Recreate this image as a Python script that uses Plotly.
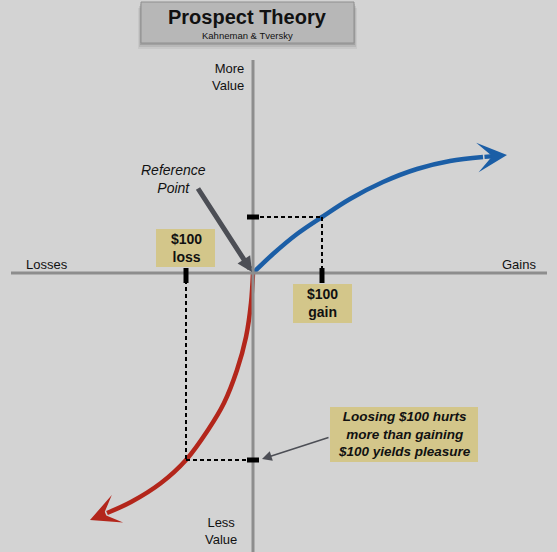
import plotly.graph_objects as go

# ---- data (chart units: origin at the reference point) ----
gain_x = [0, 20, 44, 69, 97, 130, 164, 197, 230]
gain_v = [0, 19, 39, 56, 74, 91, 104, 112, 116]
gain_tip = (254, 118)

loss_x = [0, -2, -7, -16, -29, -45, -67, -92, -122, -146]
loss_v = [0, -30, -64, -97, -130, -157, -187, -210, -229, -240]
loss_tip = (-163, -247)

mark_gain = (69, 56)     # $100 gain -> value
mark_loss = (-67, -187)  # $100 loss -> value

BG = "#d3d3d3"
AXIS = "#8d8d8d"
BLUE = "#1b5ea6"
RED = "#b3261b"
KHAKI = "#d3c68a"
DARK = "#4c4e55"
FONT = "Liberation Sans, Arial, sans-serif"

fig = go.Figure()

shapes = []
# axes
shapes.append(dict(type="line", x0=-242, x1=294, y0=0, y1=0, line=dict(color=AXIS, width=3)))
shapes.append(dict(type="line", x0=0, x1=0, y0=213, y1=-279, line=dict(color=AXIS, width=3)))

# dashed guides
dash = "4px,3px"
gx, gv = mark_gain
lx, lv = mark_loss
shapes += [
    dict(type="line", x0=0, x1=gx, y0=gv, y1=gv, line=dict(color="black", width=2, dash=dash)),
    dict(type="line", x0=gx, x1=gx, y0=gv, y1=0, line=dict(color="black", width=2, dash=dash)),
    dict(type="line", x0=lx, x1=lx, y0=0, y1=lv, line=dict(color="black", width=2, dash=dash)),
    dict(type="line", x0=lx, x1=0, y0=lv, y1=lv, line=dict(color="black", width=2, dash=dash)),
]
# tick marks
shapes += [
    dict(type="rect", x0=-6, x1=6, y0=gv - 2.5, y1=gv + 2.5, fillcolor="black", line_width=0),
    dict(type="rect", x0=gx - 2.5, x1=gx + 2.5, y0=5, y1=-10, fillcolor="black", line_width=0),
    dict(type="rect", x0=lx - 2.5, x1=lx + 2.5, y0=5, y1=-10, fillcolor="black", line_width=0),
    dict(type="rect", x0=-6, x1=6, y0=lv - 2.5, y1=lv + 2.5, fillcolor="black", line_width=0),
]
# label boxes
shapes += [
    dict(type="rect", x0=-97, x1=-38, y0=44, y1=6, fillcolor=KHAKI, line_width=0),
    dict(type="rect", x0=40, x1=99, y0=-11, y1=-50, fillcolor=KHAKI, line_width=0),
    dict(type="rect", x0=77, x1=225, y0=-134, y1=-189, fillcolor=KHAKI, line_width=0),
]
# title box with soft shadow
for off, a in [(6, 0.05), (4, 0.08), (2, 0.12)]:
    shapes.append(dict(type="rect", x0=-112 - off / 2, x1=101 + off / 2, y0=271 - off, y1=230 - off,
                       fillcolor=f"rgba(0,0,0,{a})", line_width=0))
shapes.append(dict(type="rect", x0=-112, x1=101, y0=271, y1=230, fillcolor="#b7b7b7",
                   line=dict(color="#8f8f8f", width=1)))

fig.add_trace(go.Scatter(x=gain_x, y=gain_v, mode="lines",
                         line=dict(color=BLUE, width=4.5, shape="spline", smoothing=1.0),
                         hoverinfo="skip"))
fig.add_trace(go.Scatter(x=loss_x, y=loss_v, mode="lines",
                         line=dict(color=RED, width=4.5, shape="spline", smoothing=1.0),
                         hoverinfo="skip"))

ann = []
# curve arrowheads
ann.append(dict(x=gain_tip[0], y=gain_tip[1], ax=gain_x[-1], ay=gain_v[-1], axref="x", ayref="y",
                xref="x", yref="y", text="", showarrow=True, arrowhead=3, arrowsize=1.1,
                arrowwidth=4.5, arrowcolor=BLUE))
ann.append(dict(x=loss_tip[0], y=loss_tip[1], ax=loss_x[-1], ay=loss_v[-1], axref="x", ayref="y",
                xref="x", yref="y", text="", showarrow=True, arrowhead=3, arrowsize=1.1,
                arrowwidth=4.5, arrowcolor=RED))
# reference point arrow
ann.append(dict(x=-1, y=1, ax=-56, ay=86, axref="x", ayref="y", xref="x", yref="y", text="",
                showarrow=True, arrowhead=2, arrowsize=0.6, arrowwidth=5, arrowcolor=DARK))
# big-box arrow
ann.append(dict(x=9, y=-186, ax=77, ay=-164, axref="x", ayref="y", xref="x", yref="y", text="",
                showarrow=True, arrowhead=2, arrowsize=1.3, arrowwidth=1.5, arrowcolor=DARK))

def txt(x, y, s, size, bold=False, italic=False, align="center", xanchor="center", color="#111"):
    t = s
    if bold:
        t = f"<b>{t}</b>"
    if italic:
        t = f"<i>{t}</i>"
    ann.append(dict(x=x, y=y, xref="x", yref="y", text=t, showarrow=False, align=align,
                    xanchor=xanchor, yanchor="middle", font=dict(family=FONT, size=size, color=color)))

txt(-6, 256, "Prospect Theory", 20, bold=True)
txt(-6, 238, "Kahneman & Tversky", 9.5)
txt(-80, 94, "Reference<br>Point", 14, italic=True)
txt(-67, 25, "$100<br>loss", 14, bold=True)
txt(69, -30, "$100<br>gain", 14, bold=True)
txt(151, -161, "Loosing $100 hurts<br>more than gaining<br>$100 yields pleasure", 13.5, bold=True, italic=True)
txt(-206, 9, "Losses", 13)
txt(266, 9, "Gains", 13)
txt(-7, 196, "More<br>Value", 13, align="right", xanchor="right")
txt(-32, -258, "Less<br>Value", 13)

fig.update_layout(
    width=557, height=552, margin=dict(l=0, r=0, t=0, b=0),
    paper_bgcolor=BG, plot_bgcolor=BG, showlegend=False,
    xaxis=dict(range=[-253, 304], visible=False, fixedrange=True),
    yaxis=dict(range=[-279, 273], visible=False, fixedrange=True),
    shapes=shapes, annotations=ann,
)
fig.write_html("out.html")
